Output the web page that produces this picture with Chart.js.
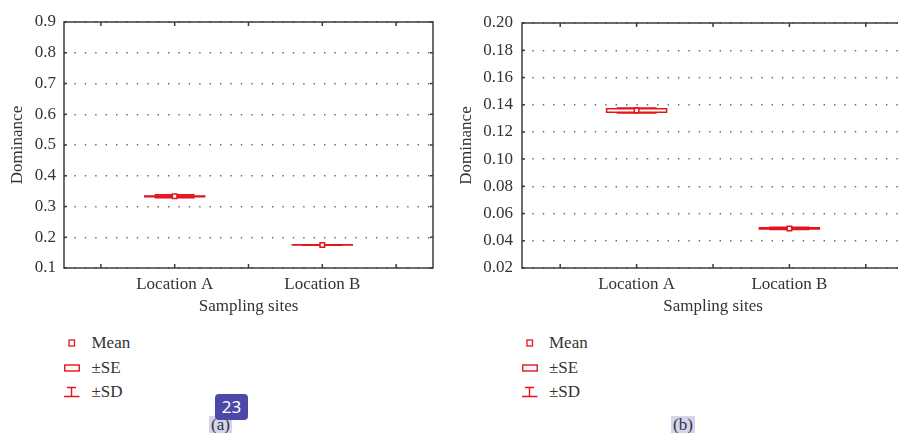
<!DOCTYPE html>
<html>
<head>
<meta charset="utf-8">
<script src="https://cdn.jsdelivr.net/npm/chart.js@4.4.1/dist/chart.umd.min.js"></script>
<style>
  html, body { margin: 0; padding: 0; background: #fff; width: 898px; height: 433px; overflow: hidden; }
  body { position: relative; font-family: "Liberation Serif", serif; color: #333; }
  .panel { position: absolute; top: 0; }
  .legend-row { position: absolute; font-size: 17px; line-height: 20px; height: 20px; white-space: nowrap; }
  .legend-row svg { position: absolute; top: 4px; }
  .legend-row span { position: absolute; top: 0; }
  .caption { position: absolute; font-size: 17px; line-height: 17px; padding: 0 2px; background: #d4d4ee; }
  .badge { position: absolute; left: 215px; top: 394px; width: 33px; height: 26px; border-radius: 4px;
           background: #4b48a8; color: #fff; font: 17px "Noto Sans", sans-serif; line-height: 26px; text-align: center; }
</style>
</head>
<body>
<canvas id="chartA" class="panel" style="left:0"></canvas>
<canvas id="chartB" class="panel" style="left:450px"></canvas>
<div id="legendA"></div>
<div id="legendB"></div>
<div class="caption" style="left:209px; top:416px;">(a)</div>
<div class="caption" style="left:671px; top:416px;">(b)</div>
<div class="badge">23</div>
<script>
// categories along x (placed at 0 and 1 on a linear axis)
const categories = ['Location A', 'Location B'];

// panel (a)
const meanA = [0.333, 0.175];
const seA = [0.001, 0.0005];
const sdA = [0.0045, 0.0005];
const yTicksA = [0.1, 0.2, 0.3, 0.4, 0.5, 0.6, 0.7, 0.8, 0.9];

// panel (b)
const meanB = [0.1357, 0.0491];
const seB = [0.0013, 0.0004];
const sdB = [0.0017, 0.0007];
const yTicksB = [0.02, 0.04, 0.06, 0.08, 0.10, 0.12, 0.14, 0.16, 0.18, 0.20];

const xTicks = [-0.5, 0, 0.5, 1, 1.5];
const legendLabels = ['Mean', '±SE', '±SD'];

const RED = '#e3141e';
const INK = '#333';
const FRAME = '#3c3c3c';
const serif = { family: '"Liberation Serif", serif', size: 17 };

// box (±SE) and whisker (±SD) drawn through the chart scales
const boxPlugin = {
  id: 'boxes',
  beforeDatasetsDraw(chart, args, opts) {
    const { ctx } = chart;
    const xs = chart.scales.x, ys = chart.scales.y;
    ctx.save();
    ctx.strokeStyle = RED;
    opts.mean.forEach((m, i) => {
      const cx = xs.getPixelForValue(i);
      // whisker
      const sTop = ys.getPixelForValue(m + opts.sd[i]);
      const sBot = ys.getPixelForValue(m - opts.sd[i]);
      ctx.lineWidth = 1.7;
      ctx.beginPath();
      ctx.moveTo(cx, sTop); ctx.lineTo(cx, sBot);
      ctx.moveTo(cx - 20, sTop); ctx.lineTo(cx + 20, sTop);
      ctx.moveTo(cx - 20, sBot); ctx.lineTo(cx + 20, sBot);
      ctx.stroke();
      // box
      const bTop = ys.getPixelForValue(m + opts.se[i]);
      const bBot = ys.getPixelForValue(m - opts.se[i]);
      ctx.lineWidth = 1.5;
      ctx.fillStyle = '#fff';
      ctx.beginPath();
      ctx.rect(cx - 30, bTop, 60, bBot - bTop);
      if (bBot - bTop > 3) ctx.fill();
      ctx.stroke();
    });
    ctx.restore();
  },
  afterDraw(chart) {
    // frame with inward ticks
    const { ctx, chartArea: a } = chart;
    const xs = chart.scales.x, ys = chart.scales.y;
    ctx.save();
    ctx.strokeStyle = FRAME;
    ctx.lineWidth = 1.5;
    ctx.strokeRect(a.left, a.top, a.right - a.left, a.bottom - a.top);
    ctx.beginPath();
    xs.ticks.forEach(t => {
      const x = xs.getPixelForValue(t.value);
      ctx.moveTo(x, a.top); ctx.lineTo(x, a.top + 4);
      ctx.moveTo(x, a.bottom); ctx.lineTo(x, a.bottom - 4);
    });
    ys.ticks.forEach(t => {
      const y = ys.getPixelForValue(t.value);
      ctx.moveTo(a.left, y); ctx.lineTo(a.left + 3, y);
      ctx.moveTo(a.right, y); ctx.lineTo(a.right - 3, y);
    });
    ctx.stroke();
    ctx.restore();
  }
};

function makeChart(id, w, mean, se, sd, yTicks, digits, pad, yWidth, yPad, titlePad) {
  const canvas = document.getElementById(id);
  canvas.width = w; canvas.height = 320;
  canvas.style.width = w + 'px'; canvas.style.height = '320px';
  return new Chart(canvas, {
    type: 'scatter',
    data: {
      datasets: [{
        data: mean.map((m, i) => ({ x: i, y: m })),
        pointStyle: 'rect',
        pointRadius: 3.2,
        pointBackgroundColor: '#fff',
        pointBorderColor: RED,
        pointBorderWidth: 1.5
      }]
    },
    options: {
      responsive: false,
      animation: false,
      layout: { padding: pad },
      plugins: {
        legend: { display: false },
        tooltip: { enabled: false },
        boxes: { mean: mean, se: se, sd: sd }
      },
      scales: {
        x: {
          type: 'linear',
          min: -0.75, max: 1.75,
          afterBuildTicks: s => { s.ticks = xTicks.map(v => ({ value: v })); },
          afterFit: s => { s.height = 52; },
          grid: { display: false },
          border: { display: false },
          ticks: {
            padding: -2, color: INK, font: serif, maxRotation: 0, autoSkip: false,
            callback: v => Number.isInteger(v) ? categories[v] : ''
          },
          title: { display: true, text: 'Sampling sites', color: INK, font: serif, padding: { top: 0, bottom: 3 } }
        },
        y: {
          min: yTicks[0], max: yTicks[yTicks.length - 1],
          afterBuildTicks: s => { s.ticks = yTicks.map(v => ({ value: v })); },
          afterFit: s => { s.width = yWidth; },
          grid: { color: '#666', lineWidth: 1.4, drawTicks: false },
          border: { display: false, dash: [1.4, 9] },
          ticks: { padding: yPad, color: INK, font: serif, callback: v => v.toFixed(digits) },
          title: { display: true, text: 'Dominance', color: INK, font: serif, padding: { top: titlePad, bottom: 0 } }
        }
      }
    },
    plugins: [boxPlugin]
  });
}

makeChart('chartA', 450, meanA, seA, sdA, yTicksA, 1, { top: 22, right: 17, left: 0, bottom: 0 }, 64, 8, 7);
makeChart('chartB', 470, meanB, seB, sdB, yTicksB, 2, { top: 23, right: 16, left: 0, bottom: 0 }, 72, 9, 6.5);

// legends
const icons = [
  '<svg width="16" height="12"><rect x="5" y="3" width="5.5" height="6" fill="none" stroke="' + RED + '" stroke-width="1.3"/></svg>',
  '<svg width="16" height="12"><rect x="0.75" y="3" width="14.5" height="6" fill="none" stroke="' + RED + '" stroke-width="1.4"/></svg>',
  '<svg width="16" height="12"><path d="M3 1.5H12M7.5 1.5V10.5M0 10.5H15.5" fill="none" stroke="' + RED + '" stroke-width="1.4"/></svg>'
];
const rowY = [333, 357.5, 381.5];
function buildLegend(id, iconX, textX) {
  const host = document.getElementById(id);
  legendLabels.forEach((lab, i) => {
    const row = document.createElement('div');
    row.className = 'legend-row';
    row.style.left = iconX + 'px';
    row.style.top = rowY[i] + 'px';
    row.innerHTML = icons[i] + '<span style="left:' + (textX - iconX) + 'px">' + lab + '</span>';
    host.appendChild(row);
  });
}
buildLegend('legendA', 64, 91.5);
buildLegend('legendB', 522, 549);
</script>
</body>
</html>
